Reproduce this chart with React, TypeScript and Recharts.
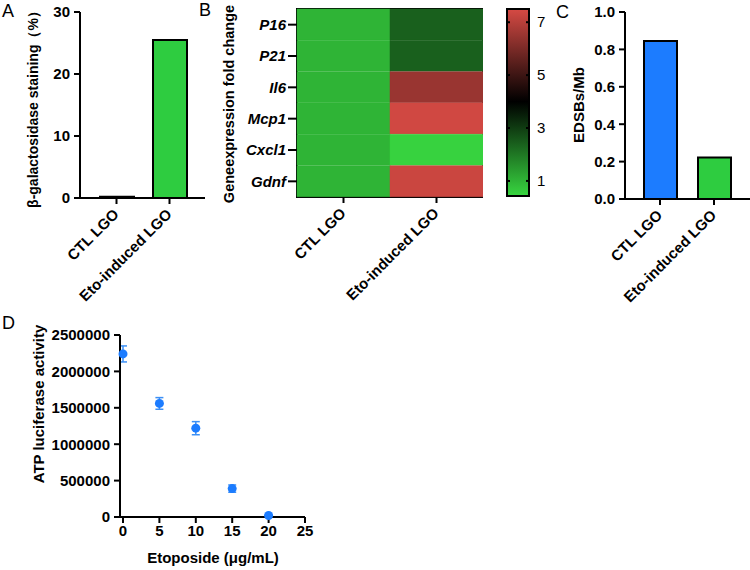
import React from "react";
import {
  BarChart,
  Bar,
  XAxis,
  YAxis,
  Cell,
  ScatterChart,
  Scatter,
  ErrorBar,
  ReferenceArea,
} from "recharts";

const FONT = '"Liberation Sans", Arial, Helvetica, sans-serif';

// panel A
const groups = ["CTL LGO", "Eto-induced LGO"];
const galStaining = [0.2, 25.5];
const galTicks = [0, 10, 20, 30];

// panel B
const genes = ["P16", "P21", "Il6", "Mcp1", "Cxcl1", "Gdnf"];
const ctlFold = [1.0, 1.0, 1.0, 1.0, 1.0, 1.0];
const etoFold = [2.4, 2.4, 6.5, 7.4, 0.5, 7.3];
const scaleTicks = [1, 3, 5, 7];
const scaleMin = 0.43;
const scaleMid = 4;
const scaleMax = 7.5;

// panel C
const edsbs = [0.845, 0.222];
const edsbTicks = [0, 0.2, 0.4, 0.6, 0.8, 1.0];

// panel D
const etoDose = [0, 5, 10, 15, 20];
const atpMean = [2240000, 1560000, 1220000, 390000, 20000];
const atpErr = [110000, 80000, 90000, 50000, 8000];
const atpTicks = [0, 500000, 1000000, 1500000, 2000000, 2500000];
const doseTicks = [0, 5, 10, 15, 20, 25];

const BLUE = "#1c7cff";
const GREEN = "#2ecc40";
const GREEN_LO = [56, 214, 64];
const RED_HI = [214, 74, 68];

const axisStyle = { stroke: "#000", strokeWidth: 2 };
const tickStyle = { fill: "#000", fontSize: 15, fontWeight: 700, fontFamily: FONT };

function foldColor(v: number) {
  let c: number[];
  if (v <= scaleMid) {
    const t = Math.max(0, (scaleMid - v) / (scaleMid - scaleMin));
    c = GREEN_LO.map((x) => x * t);
  } else {
    const t = Math.min(1, (v - scaleMid) / (scaleMax - scaleMid));
    c = RED_HI.map((x) => x * t);
  }
  return `rgb(${c.map((x) => Math.round(x)).join(",")})`;
}

function SlantTick(props: any) {
  const { x, y, payload, names } = props;
  const label = names ? names[Math.floor(payload.value)] : payload.value;
  return (
    <g transform={`translate(${x + 1},${y + 4})`}>
      <text transform="rotate(-45)" textAnchor="end" dy="0.35em" x={-2} style={tickStyle}>
        {label}
      </text>
    </g>
  );
}

function GeneTick(props: any) {
  const { x, y, payload } = props;
  return (
    <text x={x} y={y} dy="0.35em" textAnchor="end" style={{ ...tickStyle, fontStyle: "italic" }}>
      {payload.value}
    </text>
  );
}

function ScaleTick(props: any) {
  const { y, payload } = props;
  return (
    <g>
      <line x1={17} x2={20} y1={y} y2={y} stroke="#000" strokeWidth={2} />
      <line x1={36} x2={39} y1={y} y2={y} stroke="#000" strokeWidth={2} />
      <text x={47} y={y} dy="0.35em" style={{ fontSize: 15, fontFamily: FONT, fill: "#000" }}>
        {payload.value}
      </text>
    </g>
  );
}

function Dot(props: any) {
  const { cx, cy } = props;
  return <circle cx={cx} cy={cy} r={4.5} fill={BLUE} />;
}

function VTitle({ x, y, size = 15, children }: { x: number; y: number; size?: number; children: React.ReactNode }) {
  return (
    <text
      x={x}
      y={y}
      transform={`rotate(-90 ${x} ${y})`}
      textAnchor="middle"
      dominantBaseline="central"
      style={{ fontSize: size, fontWeight: 700, fontFamily: FONT, fill: "#000" }}
    >
      {children}
    </text>
  );
}

const galData = groups.map((g, i) => ({ group: g, value: galStaining[i] }));
const heatData = genes.map((g, i) => ({ gene: g, ctl: ctlFold[i], eto: etoFold[i] }));
const scaleData = [{ name: "fold", range: [scaleMin, scaleMax] }];
const edsbData = groups.map((g, i) => ({ group: g, value: edsbs[i] }));
const atpData = etoDose.map((d, i) => ({ dose: d, atp: atpMean[i], err: atpErr[i] }));

export default function App() {
  return (
    <div
      style={{
        position: "absolute",
        left: 0,
        top: 0,
        width: 750,
        height: 570,
        background: "#fff",
        fontFamily: FONT,
      }}
    >
      {/* A */}
      <div style={{ position: "absolute", left: 0, top: 0 }}>
        <BarChart width={215} height={312} data={galData} margin={{ top: 12, right: 10, left: 0, bottom: 0 }}>
          <XAxis
            dataKey="group"
            height={114}
            padding={{ left: 10, right: 9 }}
            axisLine={axisStyle}
            tickLine={axisStyle}
            tickSize={6}
            interval={0}
            tick={<SlantTick />}
          />
          <YAxis
            domain={[0, 30]}
            ticks={galTicks}
            width={80}
            axisLine={axisStyle}
            tickLine={axisStyle}
            tickSize={6}
            tickMargin={4}
            tick={tickStyle}
          />
          <Bar dataKey="value" barSize={34} stroke="#000" strokeWidth={2} isAnimationActive={false}>
            <Cell fill={BLUE} />
            <Cell fill={GREEN} />
          </Bar>
        </BarChart>
      </div>

      {/* B heatmap */}
      <div style={{ position: "absolute", left: 170, top: 0 }}>
        <BarChart
          layout="vertical"
          width={313}
          height={312}
          data={heatData}
          margin={{ top: 9, right: 0, left: 0, bottom: 0 }}
          barCategoryGap={0}
          barGap={0}
        >
          <XAxis
            type="number"
            domain={[0, 2]}
            ticks={[0.5, 1.5]}
            height={115}
            axisLine={false}
            tickLine={axisStyle}
            tickSize={6}
            tick={<SlantTick names={groups} />}
          />
          <YAxis
            type="category"
            dataKey="gene"
            width={127}
            axisLine={false}
            tickLine={axisStyle}
            tickSize={9}
            tick={<GeneTick />}
          />
          <Bar dataKey={() => 1} stackId="h" isAnimationActive={false}>
            {heatData.map((d) => (
              <Cell key={"c" + d.gene} fill={foldColor(d.ctl)} stroke={foldColor(d.ctl)} strokeWidth={0.5} />
            ))}
          </Bar>
          <Bar dataKey={() => 1} stackId="h" isAnimationActive={false}>
            {heatData.map((d) => (
              <Cell key={"e" + d.gene} fill={foldColor(d.eto)} stroke={foldColor(d.eto)} strokeWidth={0.5} />
            ))}
          </Bar>
          <ReferenceArea x1={0} x2={2} fill="none" stroke="#000" strokeWidth={2} />
        </BarChart>
      </div>

      {/* B colour scale */}
      <div style={{ position: "absolute", left: 490, top: 0 }}>
        <BarChart
          width={70}
          height={290}
          data={scaleData}
          margin={{ top: 9, right: 0, left: 17, bottom: 94 }}
          barCategoryGap={0}
        >
          <defs>
            <linearGradient id="foldScale" x1="0" y1="0" x2="0" y2="1">
              <stop offset="0" stopColor={foldColor(scaleMax)} />
              <stop offset={(scaleMax - scaleMid) / (scaleMax - scaleMin)} stopColor="#000" />
              <stop offset="1" stopColor={foldColor(scaleMin)} />
            </linearGradient>
          </defs>
          <XAxis dataKey="name" hide />
          <YAxis
            orientation="right"
            domain={[scaleMin, scaleMax]}
            ticks={scaleTicks}
            width={31}
            axisLine={false}
            tickLine={false}
            tick={<ScaleTick />}
          />
          <Bar dataKey="range" fill="url(#foldScale)" stroke="#000" strokeWidth={2} isAnimationActive={false} />
        </BarChart>
      </div>

      {/* C */}
      <div style={{ position: "absolute", left: 545, top: 0 }}>
        <BarChart width={205} height={312} data={edsbData} margin={{ top: 12, right: 0, left: 0, bottom: 0 }}>
          <XAxis
            dataKey="group"
            height={113}
            padding={{ left: 8, right: 9 }}
            axisLine={axisStyle}
            tickLine={axisStyle}
            tickSize={6}
            interval={0}
            tick={<SlantTick />}
          />
          <YAxis
            domain={[0, 1]}
            ticks={edsbTicks}
            tickFormatter={(v: number) => v.toFixed(1)}
            width={80}
            axisLine={axisStyle}
            tickLine={axisStyle}
            tickSize={6}
            tickMargin={4}
            tick={tickStyle}
          />
          <Bar dataKey="value" barSize={33} stroke="#000" strokeWidth={2} isAnimationActive={false}>
            <Cell fill={BLUE} />
            <Cell fill={GREEN} />
          </Bar>
        </BarChart>
      </div>

      {/* D */}
      <div style={{ position: "absolute", left: 0, top: 300 }}>
        <ScatterChart width={315} height={270} margin={{ top: 35, right: 10, left: 0, bottom: 0 }}>
          <XAxis
            type="number"
            dataKey="dose"
            domain={[0, 25]}
            ticks={doseTicks}
            height={53}
            padding={{ left: 3, right: 0 }}
            axisLine={axisStyle}
            tickLine={axisStyle}
            tickSize={6}
            tick={tickStyle}
          />
          <YAxis
            type="number"
            dataKey="atp"
            domain={[0, 2500000]}
            ticks={atpTicks}
            width={120}
            axisLine={axisStyle}
            tickLine={axisStyle}
            tickSize={6}
            tickMargin={4}
            tick={tickStyle}
          />
          <Scatter data={atpData} shape={<Dot />} fill={BLUE} isAnimationActive={false}>
            <ErrorBar dataKey="err" direction="y" width={4} stroke="#3d90f5" strokeWidth={1.5} />
          </Scatter>
        </ScatterChart>
      </div>

      {/* titles and panel letters */}
      <svg
        width={750}
        height={570}
        style={{ position: "absolute", left: 0, top: 0, pointerEvents: "none" }}
      >
        <g style={{ fontSize: 18, fontFamily: FONT, fill: "#000" }}>
          <text x={2} y={17}>A</text>
          <text x={199} y={16}>B</text>
          <text x={556} y={18}>C</text>
          <text x={2} y={329}>D</text>
        </g>
        <VTitle x={33} y={106} size={14}>β-galactosidase staining（%）</VTitle>
        <VTitle x={229} y={104} size={14.5}>Geneexpression fold change</VTitle>
        <VTitle x={578} y={105}>EDSBs/Mb</VTitle>
        <VTitle x={38} y={404}>ATP luciferase activity</VTitle>
        <text
          x={213}
          y={557}
          textAnchor="middle"
          dominantBaseline="central"
          style={{ fontSize: 15, fontWeight: 700, fontFamily: FONT, fill: "#000" }}
        >
          Etoposide (μg/mL)
        </text>
      </svg>
    </div>
  );
}
